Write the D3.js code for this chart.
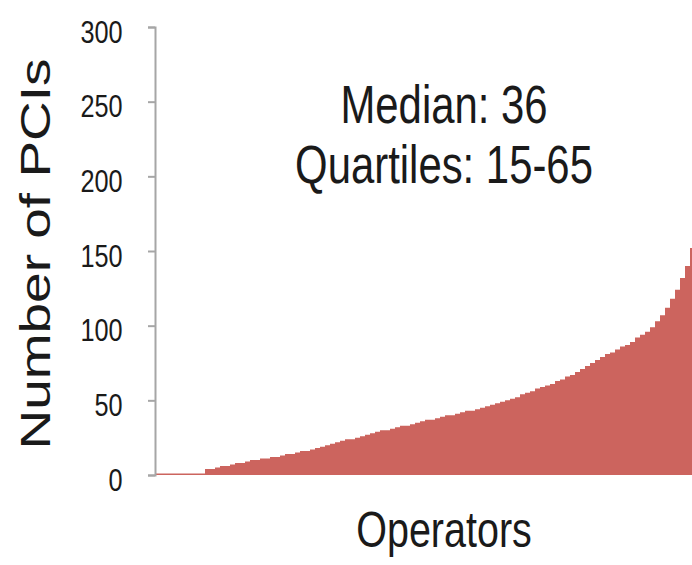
<!DOCTYPE html>
<meta charset="utf-8">
<style>
body { margin: 0; background: #fff; }
text { font-family: "Liberation Sans", Arial, sans-serif; fill: #1a1a1a; }
.area { fill: #cc645e; }
.axis path, .axis line { stroke: #a6a6a6; stroke-width: 2; }
</style>
<body>
<script src="https://cdn.jsdelivr.net/npm/d3@7"></script>
<script>
// PCIs per operator, sorted ascending
var pcis = [1, 1, 1, 1, 1, 1, 1, 1, 1, 1,
            4, 4, 5, 6, 6, 7, 8, 8, 9, 10,
            10, 11, 11, 12, 12, 13, 14, 14, 15, 16,
            16, 17, 18, 19, 20, 21, 22, 23, 24, 24,
            25, 26, 27, 28, 29, 30, 30, 31, 32, 33,
            33, 34, 35, 36, 37, 37, 38, 39, 40, 40,
            41, 42, 43, 43, 44, 45, 46, 47, 48, 49,
            50, 51, 52, 54, 55, 56, 58, 59, 60, 61,
            63, 64, 66, 67, 69, 71, 73, 75, 77, 79,
            81, 82, 84, 86, 87, 89, 92, 94, 96, 99,
            103, 107, 112, 118, 124, 132, 140, 152, 175, 210];
var yTicks = [0, 50, 100, 150, 200, 250, 300];
var notes = ["Median: 36", "Quartiles: 15-65"];

var width = 692, height = 565;
var plotLeft = 155, plotTop = 27, plotBottom = 475, plotRight = 705;
var sx = 0.79; // the original picture is squeezed horizontally

var svg = d3.select("body").append("svg")
    .attr("width", width)
    .attr("height", height);

var x = d3.scaleLinear()
    .domain([0, pcis.length])
    .range([plotLeft, plotRight]);

var y = d3.scaleLinear()
    .domain([0, 300])
    .range([plotBottom, plotTop]);

// step area, one step per operator
var pts = pcis.map(function(d, i) { return [i, d]; });
pts.push([pcis.length, pcis[pcis.length - 1]]);

svg.append("path")
    .datum(pts)
    .attr("class", "area")
    .attr("d", d3.area()
        .curve(d3.curveStepAfter)
        .x(function(d) { return x(d[0]); })
        .y0(y(0))
        .y1(function(d) { return y(d[1]); }));

// y axis
var yAxis = svg.append("g")
    .attr("class", "axis")
    .attr("transform", "translate(" + plotLeft + ",0)")
    .call(d3.axisLeft(y).tickValues(yTicks).tickSize(7).tickSizeOuter(7).tickPadding(34));

yAxis.selectAll("text")
    .attr("font-size", 32)
    .attr("dy", "0.47em")
    .attr("fill", "#333")
    .style("font-family", "Liberation Sans, Arial, sans-serif")
    .attr("transform", "scale(" + sx + ",1)");

// y title
svg.append("text")
    .attr("transform", "translate(50,254) scale(0.76,1) rotate(-90)")
    .attr("text-anchor", "middle")
    .attr("font-size", 55)
    .text("Number of PCIs");

// x title
svg.append("text")
    .attr("transform", "translate(444,547) scale(" + sx + ",1)")
    .attr("text-anchor", "middle")
    .attr("font-size", 50)
    .text("Operators");

// annotation
svg.selectAll(".note")
    .data(notes)
  .enter().append("text")
    .attr("class", "note")
    .attr("transform", function(d, i) { return "translate(444," + (123 + i * 60) + ") scale(" + sx + ",1)"; })
    .attr("text-anchor", "middle")
    .attr("font-size", 53)
    .text(function(d) { return d; });
</script>
</body>
